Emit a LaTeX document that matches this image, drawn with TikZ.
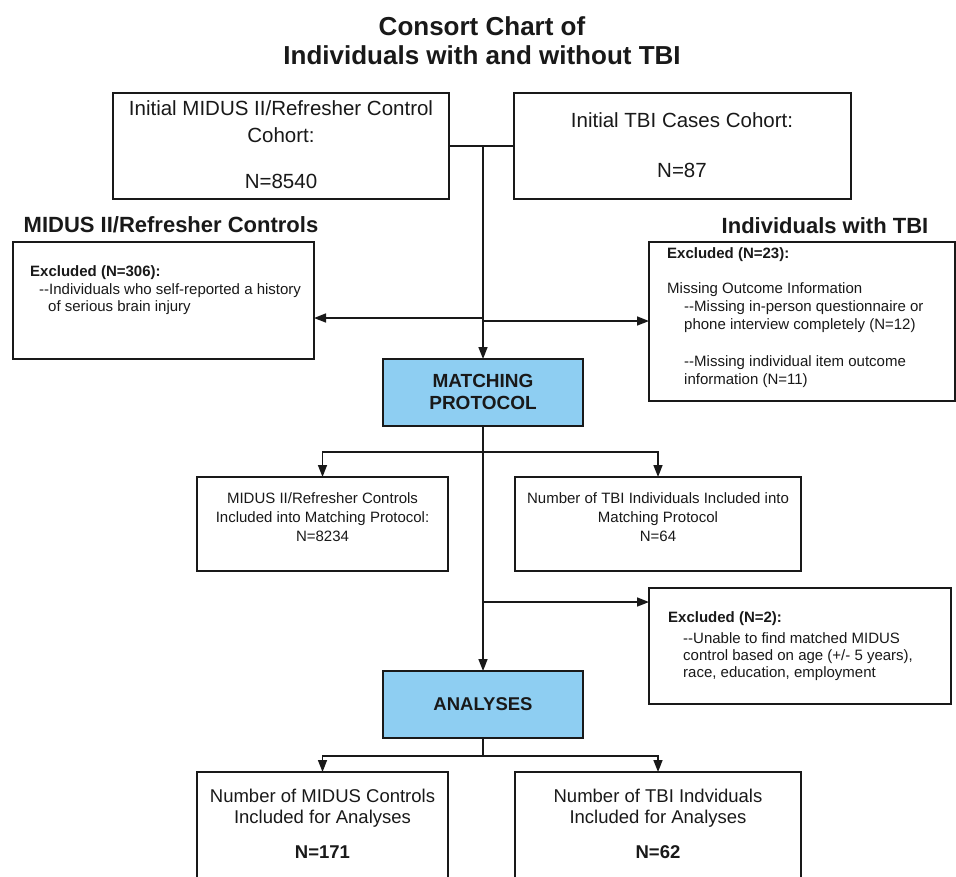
\documentclass[tikz,border=0pt]{standalone}
\usepackage{fontspec}
\setmainfont{Liberation Sans}
\usetikzlibrary{arrows.meta}
\definecolor{boxblue}{RGB}{142,206,242}
\definecolor{ink}{RGB}{25,25,25}
\tikzset{
  box/.style={draw=ink, line width=1.6pt, inner sep=0pt, outer sep=0pt, anchor=north west},
  bluebox/.style={box, fill=boxblue},
  conn/.style={draw=ink, line width=1.6pt},
  arr/.style={conn, -{Triangle[length=12pt,width=9pt]}},
  txt/.style={inner sep=0pt, text=ink, font=\fontsize{15}{17}\selectfont},
  txtb/.style={txt, font=\fontsize{15}{17}\selectfont\bfseries},
  mid/.style={inner sep=0pt, text=ink, font=\fontsize{20.5}{24}\selectfont},
  big/.style={inner sep=0pt, text=ink, font=\fontsize{18.5}{22}\selectfont},
  bigb/.style={inner sep=0pt, text=ink, font=\fontsize{18.5}{22}\selectfont\bfseries},
  head/.style={inner sep=0pt, text=ink, font=\fontsize{22}{26}\selectfont\bfseries},
  title/.style={inner sep=0pt, text=ink, font=\fontsize{26}{30}\selectfont\bfseries},
}
\begin{document}
\begin{tikzpicture}[x=1pt,y=-1pt]
\path[use as bounding box] (0,0) rectangle (956,876);
\clip (0,0) rectangle (956,876);
\fill[white] (0,0) rectangle (956,876);

% title
\node[title, anchor=base] (ti1) at (482,35) {Consort Chart of};
\node[title, anchor=base] (ti2) at (482,64) {Individuals with and without TBI};

% top boxes
\node[box, minimum width=336pt, minimum height=106pt] (b1) at (113,93) {};
\node[mid, anchor=base] (b1a) at (281,115) {Initial MIDUS II/Refresher Control};
\node[mid, anchor=base] (b1b) at (281,142) {Cohort:};
\node[mid, anchor=base] (b1c) at (281,188) {N=8540};

\node[box, minimum width=337pt, minimum height=106pt] (b2) at (514,93) {};
\node[mid, anchor=base] (b2a) at (682,127) {Initial TBI Cases Cohort:};
\node[mid, anchor=base] (b2b) at (682,177) {N=87};

% headings
\node[head, anchor=base] (h1) at (171,232) {MIDUS II/Refresher Controls};
\node[head, anchor=base] (h2) at (825,233) {Individuals with TBI};

% left excluded box
\node[box, minimum width=301pt, minimum height=117pt] (lb) at (13,242) {};
\node[txtb, anchor=base west] (lba) at (30,276) {Excluded (N=306):};
\node[txt, anchor=base west] (lbb) at (39,294) {-{}-Individuals who self-reported a history};
\node[txt, anchor=base west] (lbc) at (48,311) {of serious brain injury};

% right excluded box
\node[box, minimum width=306pt, minimum height=159pt] (rb) at (649,242) {};
\node[txtb, anchor=base west] (rba) at (667,258) {Excluded (N=23):};
\node[txt, anchor=base west] (rbb) at (667,293) {Missing Outcome Information};
\node[txt, anchor=base west] (rbc) at (684,311) {-{}-Missing in-person questionnaire or};
\node[txt, anchor=base west] (rbd) at (684,329) {phone interview completely (N=12)};
\node[txt, anchor=base west] (rbe) at (684,366) {-{}-Missing individual item outcome};
\node[txt, anchor=base west] (rbf) at (684,384) {information (N=11)};

% matching protocol
\node[bluebox, minimum width=200pt, minimum height=67pt] (mp) at (383,359) {};
\node[inner sep=0pt, text=ink, font=\fontsize{19}{23}\selectfont\bfseries, anchor=base] (mpa) at (483,387) {MATCHING};
\node[inner sep=0pt, text=ink, font=\fontsize{19}{23}\selectfont\bfseries, anchor=base] (mpb) at (483,409) {PROTOCOL};

% included into matching
\node[box, minimum width=251pt, minimum height=94pt] (b3) at (197,477) {};
\node[txt, anchor=base] (b3a) at (322.5,503) {MIDUS II/Refresher Controls};
\node[txt, anchor=base] (b3b) at (322.5,522) {Included into Matching Protocol:};
\node[txt, anchor=base] (b3c) at (322.5,541) {N=8234};

\node[box, minimum width=286pt, minimum height=94pt] (b4) at (515,477) {};
\node[txt, anchor=base] (b4a) at (658,503) {Number of TBI Individuals Included into};
\node[txt, anchor=base] (b4b) at (658,522) {Matching Protocol};
\node[txt, anchor=base] (b4c) at (658,541) {N=64};

% excluded N=2
\node[box, minimum width=302pt, minimum height=116pt] (ex2) at (649,588) {};
\node[txtb, anchor=base west] (ex2a) at (668,622) {Excluded (N=2):};
\node[txt, anchor=base west] (ex2b) at (683,643) {-{}-Unable to find matched MIDUS};
\node[txt, anchor=base west] (ex2c) at (683,660) {control based on age (+/- 5 years),};
\node[txt, anchor=base west] (ex2d) at (683,677) {race, education, employment};

% analyses
\node[bluebox, minimum width=200pt, minimum height=67pt] (an) at (383,671) {};
\node[bigb, anchor=base] (ana) at (483,710) {ANALYSES};

% bottom boxes
\node[box, minimum width=251pt, minimum height=120pt] (b5) at (197,772) {};
\node[big, anchor=base] (b5a) at (322.5,802) {Number of MIDUS Controls};
\node[big, anchor=base] (b5b) at (322.5,823) {Included for Analyses};
\node[bigb, anchor=base] (b5c) at (322.5,858) {N=171};

\node[box, minimum width=286pt, minimum height=120pt] (b6) at (515,772) {};
\node[big, anchor=base] (b6a) at (658,802) {Number of TBI Indviduals};
\node[big, anchor=base] (b6b) at (658,823) {Included for Analyses};
\node[bigb, anchor=base] (b6c) at (658,858) {N=62};

% connectors
\coordinate (j1) at (483,146);
\coordinate (j2) at (483,318);
\coordinate (j3) at (483,321);
\coordinate (j4) at (483,452);
\coordinate (j5) at (483,602);
\coordinate (j6) at (483,756);

\draw[conn] (b1.east) -- (b2.west);
\draw[arr] (j1) -- (mp.north);
\draw[arr] (j2) -- (lb.east |- j2);
\draw[arr] (j3) -- (rb.west |- j3);
\draw[arr] (mp.south) -- (an.north);
\draw[arr] (j4) -| (b3.north);
\draw[arr] (j4) -| (b4.north);
\draw[arr] (j5) -- (ex2.west |- j5);
\draw[conn] (an.south) -- (j6);
\draw[arr] (j6) -| (b5.north);
\draw[arr] (j6) -| (b6.north);
\end{tikzpicture}
\end{document}
